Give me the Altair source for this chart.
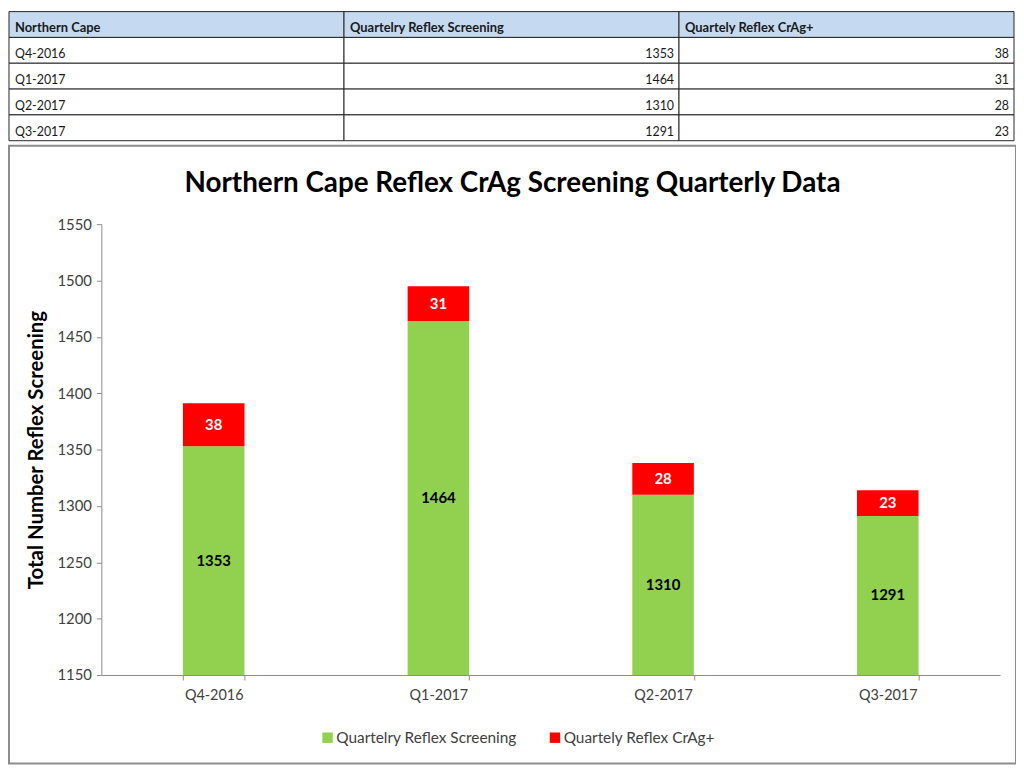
import altair as alt
import pandas as pd

# ---------------- data ----------------
quarters = ["Q4-2016", "Q1-2017", "Q2-2017", "Q3-2017"]
screening = [1353, 1464, 1310, 1291]
crag = [38, 31, 28, 23]
header = ["Northern Cape", "Quartelry Reflex Screening", "Quartely Reflex CrAg+"]
series_names = ["Quartelry Reflex Screening", "Quartely Reflex CrAg+"]
series_colors = ["#92d050", "#ff0000"]
y_ticks = [1150, 1200, 1250, 1300, 1350, 1400, 1450, 1500, 1550]
title_text = "Northern Cape Reflex CrAg Screening Quarterly Data"
y_title = "Total Number Reflex Screening"

FONT = "Lato"
GRAY = "#8c8c8c"
LABEL = "#404040"

# layout (pixels, relative to the framed view)
FRAME_W, FRAME_H = 1014, 622
PLOT_X = [93, 998]
PLOT_Y = [533, 79]
TABLE_X = [0, 1012]
TABLE_Y = [-135, -5]

# ---------------- table ----------------
cells = []
for ci, h in enumerate(header):
    cells.append({"row": 0, "col": ci, "text": h, "kind": "header"})
for ri, q in enumerate(quarters, start=1):
    cells.append({"row": ri, "col": 0, "text": q, "kind": "left"})
    cells.append({"row": ri, "col": 1, "text": str(screening[ri - 1]), "kind": "right"})
    cells.append({"row": ri, "col": 2, "text": str(crag[ri - 1]), "kind": "right"})
tdf = pd.DataFrame(cells)

xs = alt.Scale(domain=[0, 1, 2], range=TABLE_X, paddingInner=0, paddingOuter=0)
ys = alt.Scale(domain=[0, 1, 2, 3, 4], range=TABLE_Y, paddingInner=0, paddingOuter=0)
tbase = alt.Chart(tdf)

cell_rects = tbase.mark_rect(stroke="#262626", strokeWidth=1).encode(
    x=alt.X("col:O", scale=xs, axis=None),
    y=alt.Y("row:O", scale=ys, axis=None),
    fill=alt.condition("datum.row == 0", alt.value("#c5d9f1"), alt.value("white")),
)
header_text = tbase.transform_filter("datum.kind == 'header'").mark_text(
    align="left", baseline="middle", dx=6, dy=4, font=FONT, fontSize=13,
    fontWeight="bold", color="#1a1a1a"
).encode(
    x=alt.X("col:O", scale=xs, axis=None, bandPosition=0),
    y=alt.Y("row:O", scale=ys, axis=None),
    text="text:N",
)
left_text = tbase.transform_filter("datum.kind == 'left'").mark_text(
    align="left", baseline="middle", dx=6, dy=4, font=FONT, fontSize=12.5,
    color="#1a1a1a"
).encode(
    x=alt.X("col:O", scale=xs, axis=None, bandPosition=0),
    y=alt.Y("row:O", scale=ys, axis=None),
    text="text:N",
)
right_text = tbase.transform_filter("datum.kind == 'right'").mark_text(
    align="right", baseline="middle", dx=-5, dy=4, font=FONT, fontSize=12.5,
    color="#1a1a1a"
).encode(
    x=alt.X("col:O", scale=xs, axis=None, bandPosition=1),
    y=alt.Y("row:O", scale=ys, axis=None),
    text="text:N",
)
table = alt.layer(cell_rects, header_text, left_text, right_text)

# ---------------- bar chart ----------------
rows = []
for q, s, c in zip(quarters, screening, crag):
    rows.append({"quarter": q, "series": series_names[0], "value": s,
                 "start": y_ticks[0], "end": s, "label_y": (y_ticks[0] + s) / 2,
                 "kind": "green"})
    rows.append({"quarter": q, "series": series_names[1], "value": c,
                 "start": s, "end": s + c, "label_y": s + c / 2,
                 "kind": "red"})
bdf = pd.DataFrame(rows)

xscale = alt.Scale(domain=quarters, range=PLOT_X, paddingInner=0.726, paddingOuter=0.363)
yscale = alt.Scale(domain=[y_ticks[0], y_ticks[-1]], range=PLOT_Y, nice=False, zero=False)

bbase = alt.Chart(bdf)

bars = bbase.mark_bar().encode(
    x=alt.X("quarter:N", sort=quarters, scale=xscale,
            axis=alt.Axis(title=None, labelAngle=0, labelFont=FONT, labelFontSize=14.5,
                          labelColor=LABEL, domainColor=GRAY, offset=-(FRAME_H - PLOT_Y[0]),
                          tickColor=GRAY, tickSize=5, tickBand="extent",
                          labelPadding=9, grid=False)),
    y=alt.Y("start:Q", scale=yscale,
            axis=alt.Axis(values=y_ticks, format="d", title=y_title, titleFont=FONT,
                          titleFontSize=20.5, titleFontWeight="bold", titleColor="black",
                          titlePadding=10, labelFont=FONT, labelFontSize=15,
                          labelColor=LABEL, domainColor=GRAY, offset=-PLOT_X[0],
                          tickColor=GRAY, tickSize=5, labelPadding=5,
                          gridColor=GRAY, gridWidth=1)),
    y2="end:Q",
    color=alt.Color("series:N", scale=alt.Scale(domain=series_names, range=series_colors),
                    legend=alt.Legend(orient="none", legendX=313, legendY=588,
                                      direction="horizontal", title=None,
                                      symbolType="square", symbolSize=110,
                                      symbolStrokeWidth=0, labelFont=FONT,
                                      labelFontSize=15.5, labelColor=LABEL,
                                      labelOffset=1, labelLimit=400, columnPadding=30)),
)

green_labels = bbase.transform_filter("datum.kind == 'green'").mark_text(
    font=FONT, fontSize=15, fontWeight="bold", color="black", baseline="middle"
).encode(
    x=alt.X("quarter:N", sort=quarters, scale=xscale),
    y=alt.Y("label_y:Q", scale=yscale),
    text="value:Q",
)
red_labels = bbase.transform_filter("datum.kind == 'red'").mark_text(
    font=FONT, fontSize=15, fontWeight="bold", color="white", baseline="middle"
).encode(
    x=alt.X("quarter:N", sort=quarters, scale=xscale),
    y=alt.Y("label_y:Q", scale=yscale),
    text="value:Q",
)

barchart = alt.layer(bars, green_labels, red_labels)

chart = alt.layer(table, barchart).resolve_scale(
    x="independent", y="independent"
).properties(
    width=FRAME_W, height=FRAME_H, padding=0,
    title=alt.TitleParams(title_text, font=FONT, fontSize=28, fontWeight="bold",
                          color="black", anchor="middle", frame="group",
                          baseline="alphabetic", offset=-210),
).configure_view(stroke=GRAY, strokeWidth=2)

chart.save("out.html", embed_options={"renderer": "svg", "actions": False})
